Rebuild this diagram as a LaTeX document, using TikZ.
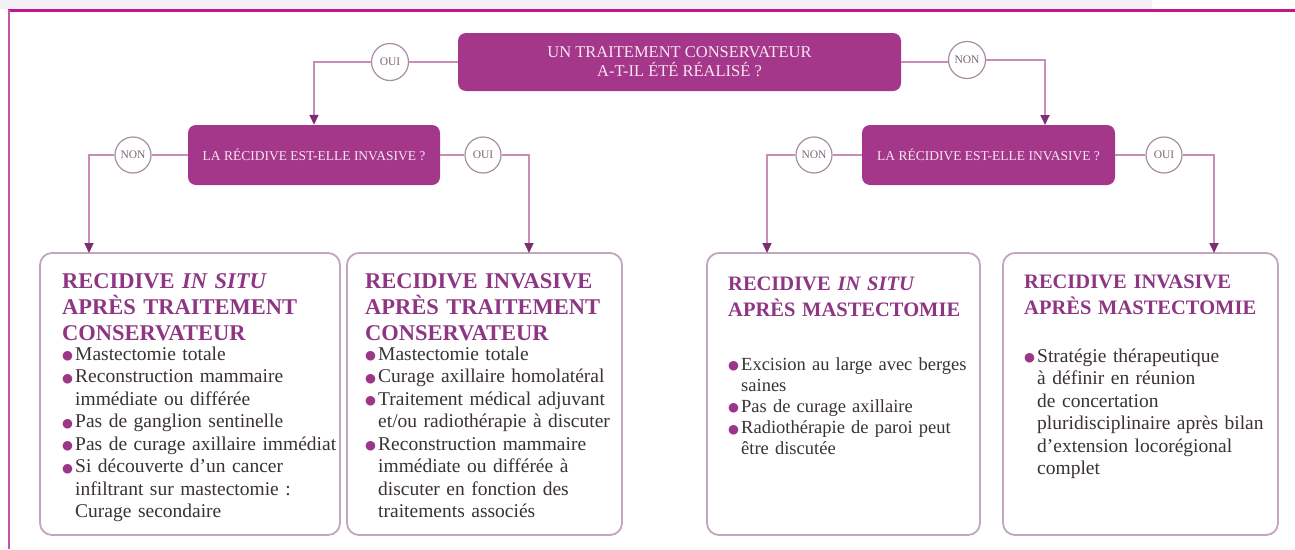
\documentclass[tikz,border=0pt]{standalone}
\usepackage{fontspec}
\setmainfont{Liberation Serif}
\newfontfamily\symf{DejaVu Sans}
\usetikzlibrary{arrows.meta}
\definecolor{mag}{HTML}{A5378A}
\definecolor{framec}{HTML}{C2168C}
\definecolor{framel}{HTML}{CC50A5}
\definecolor{connc}{HTML}{C98DBA}
\definecolor{arr}{HTML}{7D2F72}
\definecolor{circ}{HTML}{A58FA0}
\definecolor{circt}{HTML}{7A6676}
\definecolor{boxb}{HTML}{C3A5BD}
\definecolor{ttl}{HTML}{8E3583}
\definecolor{bodyc}{HTML}{3A3236}
\definecolor{bul}{HTML}{9B3689}
\definecolor{dtext}{HTML}{F8E6F2}
\definecolor{band}{HTML}{F1F1F6}
\newcommand\bl{\makebox[13pt][l]{\raisebox{0.5pt}{\fontsize{12.5}{12.5}\symf\color{bul}●}}}
\newcommand\ind{\hspace*{13pt}}
\tikzset{
  dec/.style={fill=mag, rounded corners=8pt, text=dtext, align=center, inner sep=0pt},
  ans/.style={circle, draw=circ, line width=1.2pt, fill=white, minimum size=37pt, inner sep=0pt, text=circt, font=\fontsize{11.5}{11.5}\selectfont},
  conn/.style={draw=connc, line width=1.8pt},
  arrow/.style={conn, -{Triangle[width=9pt,length=10pt,color=arr]}},
  rbox/.style={draw=boxb, line width=1.8pt, rounded corners=12pt, fill=white, inner sep=0pt},
  ttlL/.style={anchor=base west, inner sep=0pt, text width=300pt, align=left, text=ttl, font=\fontsize{22.5}{26}\selectfont\bfseries},
  ttlR/.style={anchor=base west, inner sep=0pt, text width=300pt, align=left, text=ttl, font=\fontsize{20.5}{26}\selectfont\bfseries},
  lst/.style={anchor=base west, inner sep=0pt, text width=320pt, align=left, text=bodyc, font=\fontsize{19.5}{22.5}\selectfont},
  lstS/.style={anchor=base west, inner sep=0pt, text width=320pt, align=left, text=bodyc, font=\fontsize{18.5}{21.2}\selectfont}
}
\begin{document}
\begin{tikzpicture}[x=1pt,y=-1pt]
\useasboundingbox (0,0) rectangle (1295,549);
% frame
\fill[band] (0,0) rectangle (1152,9);
\draw[framec, line width=2.5pt] (8,10.5) -- (1295,10.5);
\draw[framel, line width=2.5pt] (9,10) -- (9,549);

% decision nodes
\node[dec, minimum width=443pt, minimum height=58pt, font=\fontsize{16.5}{19}\selectfont] (top) at (679.5,62) {UN TRAITEMENT CONSERVATEUR\\A-T-IL ÉTÉ RÉALISÉ ?};
\node[dec, minimum width=252pt, minimum height=60pt, font=\fontsize{13.5}{15}\selectfont] (ld) at (314,155) {LA RÉCIDIVE EST-ELLE INVASIVE ?};
\node[dec, minimum width=253pt, minimum height=60pt, font=\fontsize{13.5}{15}\selectfont] (rd) at (988.5,155) {LA RÉCIDIVE EST-ELLE INVASIVE ?};

% answer circles
\node[ans] (oui0) at (390,62) {OUI};
\node[ans] (non0) at (967,60) {NON};
\node[ans, minimum size=36pt] (nonL) at (133,155) {NON};
\node[ans, minimum size=36pt] (ouiL) at (483,155) {OUI};
\node[ans, minimum size=36pt] (nonR) at (814,155) {NON};
\node[ans, minimum size=36pt] (ouiR) at (1164,155) {OUI};

% result boxes
\node[rbox, minimum width=300pt, minimum height=282pt] (b1) at (190,394) {};
\node[rbox, minimum width=275pt, minimum height=282pt] (b2) at (484.5,394) {};
\node[rbox, minimum width=273pt, minimum height=282pt] (b3) at (843.5,394) {};
\node[rbox, minimum width=275pt, minimum height=282pt] (b4) at (1140.5,394) {};

% arrow targets
\coordinate (t0) at (1045,125);
\coordinate (t1) at (89,253);
\coordinate (t2) at (529,253);
\coordinate (t3) at (767,253);
\coordinate (t4) at (1214,253);

% connectors
\draw[conn] (top.west) -- (oui0);
\draw[arrow] (oui0) -| (ld.north);
\draw[conn] (top.east) -- (top.east -| non0.west);
\draw[arrow] (non0) -| (t0);
\draw[conn] (ld.west) -- (nonL);
\draw[arrow] (nonL) -| (t1);
\draw[conn] (ld.east) -- (ouiL);
\draw[arrow] (ouiL) -| (t2);
\draw[conn] (rd.west) -- (nonR);
\draw[arrow] (nonR) -| (t3);
\draw[conn] (rd.east) -- (ouiR);
\draw[arrow] (ouiR) -| (t4);

% box 1
\node[ttlL] (h1) at (62,288) {RECIDIVE \textit{IN SITU}\\APRÈS TRAITEMENT\\CONSERVATEUR};
\node[lst] (l1) at (62,360) {\bl Mastectomie totale\\
\bl Reconstruction mammaire\\
\ind immédiate ou différée\\
\bl Pas de ganglion sentinelle\\
\bl Pas de curage axillaire immédiat\\
\bl Si découverte d’un cancer\\
\ind infiltrant sur mastectomie :\\
\ind Curage secondaire};

% box 2
\node[ttlL] (h2) at (365,288) {RECIDIVE INVASIVE\\APRÈS TRAITEMENT\\CONSERVATEUR};
\node[lst] (l2) at (365,360) {\bl Mastectomie totale\\
\bl Curage axillaire homolatéral\\
\bl Traitement médical adjuvant\\
\ind et/ou radiothérapie à discuter\\
\bl Reconstruction mammaire\\
\ind immédiate ou différée à\\
\ind discuter en fonction des\\
\ind traitements associés};

% box 3
\node[ttlR] (h3) at (728,290) {RECIDIVE \textit{IN SITU}\\APRÈS MASTECTOMIE};
\node[lstS] (l3) at (728,370) {\bl Excision au large avec berges\\
\ind saines\\
\bl Pas de curage axillaire\\
\bl Radiothérapie de paroi peut\\
\ind être discutée};

% box 4
\node[ttlR] (h4) at (1024,288) {RECIDIVE INVASIVE\\APRÈS MASTECTOMIE};
\node[lst] (l4) at (1024,362) {\bl Stratégie thérapeutique\\
\ind à définir en réunion\\
\ind de concertation\\
\ind pluridisciplinaire après bilan\\
\ind d’extension locorégional\\
\ind complet};
\end{tikzpicture}
\end{document}
